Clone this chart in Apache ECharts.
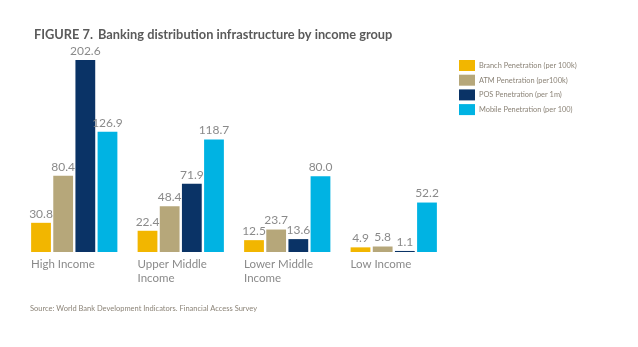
<!DOCTYPE html>
<html><head><meta charset="utf-8">
<script src="https://cdn.jsdelivr.net/npm/echarts@6/dist/echarts.min.js"></script>
<style>html,body{margin:0;padding:0;background:#fff}#c{width:638px;height:347px}</style>
</head><body><div id="c"></div>
<script>
const categories = ['High Income', 'Upper Middle\nIncome', 'Lower Middle\nIncome', 'Low Income'];
const seriesNames = ['Branch Penetration (per 100k)', 'ATM Penetration (per100k)', 'POS Penetration (per 1m)', 'Mobile Penetration (per 100)'];
const branch = [30.8, 22.4, 12.5, 4.9];
const atm = [80.4, 48.4, 23.7, 5.8];
const pos = [202.6, 71.9, 13.6, 1.1];
const mobile = [126.9, 118.7, 80.0, 52.2];
const colors = ['#F2B600', '#B6A77A', '#0A3366', '#00B3E3'];
const FONT = 'Lato, "Noto Sans", sans-serif';

const chart = echarts.init(document.getElementById('c'), null, {renderer: 'canvas'});
const values = [branch, atm, pos, mobile];
chart.setOption({
  animation: false,
  title: {
    left: 29, top: 21,
    text: '{b|FIGURE 7.} {n|Banking distribution infrastructure by income group}',
    textStyle: {
      rich: {
        b: {fontFamily: FONT, fontSize: 12.8, fontWeight: 'bold', color: '#5a5a5a'},
        n: {fontFamily: FONT, fontSize: 12.8, color: '#5a5a5a'}
      }
    }
  },
  legend: {
    orient: 'vertical', left: 459, top: 60, padding: 0,
    itemWidth: 16, itemHeight: 11, itemGap: 3.7,
    icon: 'rect',
    textStyle: {fontFamily: FONT, fontSize: 7.4, color: '#8c8478', padding: [0, 0, 0, -1]},
    data: seriesNames
  },
  grid: {left: 21, right: 191, top: 53, bottom: 95},
  xAxis: [{
    type: 'category', data: categories,
    axisLine: {show: false}, axisTick: {show: false}, axisLabel: {show: false}
  }, {
    type: 'category', data: categories.concat(['']), boundaryGap: false, position: 'bottom',
    axisLine: {show: false}, axisTick: {show: false},
    axisLabel: {interval: 0, align: 'left', margin: 5, padding: [0, 0, 0, 10], lineHeight: 14,
      fontFamily: FONT, fontSize: 11.5, color: '#8a8a8a'}
  }],
  yAxis: {type: 'value', min: 0, max: 210, show: false, splitLine: {show: false}},
  series: values.map((v, i) => ({
    name: seriesNames[i], type: 'bar', data: v, xAxisIndex: 0,
    barGap: '12%', barCategoryGap: '19%',
    itemStyle: {color: colors[i]},
    label: {show: true, position: 'top', distance: 3, fontFamily: FONT, fontSize: 12, color: '#8a8a8a',
      formatter: p => p.value.toFixed(1)}
  })),
  graphic: [{
    type: 'text', left: 30, top: 305,
    style: {text: 'Source: World Bank Development Indicators. Financial Access Survey',
      fontFamily: FONT, fontSize: 7.5, fill: '#8c8478'}
  }]
});
</script></body></html>
